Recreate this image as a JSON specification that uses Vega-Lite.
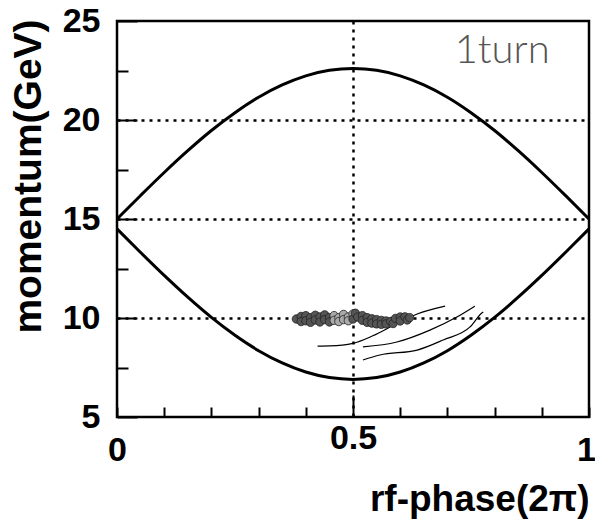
{
  "$schema": "https://vega.github.io/schema/vega-lite/v6.json",
  "width": 472,
  "height": 396,
  "autosize": "none",
  "padding": {"left": 117, "top": 21, "right": 6, "bottom": 110},
  "config": {
    "view": {"stroke": "black", "strokeWidth": 2.5},
    "font": "Liberation Sans"
  },
  "datasets": {
    "sep": [
      {"phase": 0, "p": 15.0, "branch": "upper"},
      {"phase": 0.05, "p": 16.19, "branch": "upper"},
      {"phase": 0.1, "p": 17.35, "branch": "upper"},
      {"phase": 0.15, "p": 18.45, "branch": "upper"},
      {"phase": 0.2, "p": 19.47, "branch": "upper"},
      {"phase": 0.25, "p": 20.37, "branch": "upper"},
      {"phase": 0.3, "p": 21.15, "branch": "upper"},
      {"phase": 0.35, "p": 21.77, "branch": "upper"},
      {"phase": 0.4, "p": 22.23, "branch": "upper"},
      {"phase": 0.45, "p": 22.51, "branch": "upper"},
      {"phase": 0.5, "p": 22.6, "branch": "upper"},
      {"phase": 0.55, "p": 22.51, "branch": "upper"},
      {"phase": 0.6, "p": 22.23, "branch": "upper"},
      {"phase": 0.65, "p": 21.77, "branch": "upper"},
      {"phase": 0.7, "p": 21.15, "branch": "upper"},
      {"phase": 0.75, "p": 20.37, "branch": "upper"},
      {"phase": 0.8, "p": 19.47, "branch": "upper"},
      {"phase": 0.85, "p": 18.45, "branch": "upper"},
      {"phase": 0.9, "p": 17.35, "branch": "upper"},
      {"phase": 0.95, "p": 16.19, "branch": "upper"},
      {"phase": 1, "p": 15.0, "branch": "upper"},
      {"phase": 0, "p": 14.5, "branch": "lower"},
      {"phase": 0.05, "p": 13.31, "branch": "lower"},
      {"phase": 0.1, "p": 12.15, "branch": "lower"},
      {"phase": 0.15, "p": 11.05, "branch": "lower"},
      {"phase": 0.2, "p": 10.03, "branch": "lower"},
      {"phase": 0.25, "p": 9.13, "branch": "lower"},
      {"phase": 0.3, "p": 8.35, "branch": "lower"},
      {"phase": 0.35, "p": 7.73, "branch": "lower"},
      {"phase": 0.4, "p": 7.27, "branch": "lower"},
      {"phase": 0.45, "p": 6.99, "branch": "lower"},
      {"phase": 0.5, "p": 6.9, "branch": "lower"},
      {"phase": 0.55, "p": 6.99, "branch": "lower"},
      {"phase": 0.6, "p": 7.27, "branch": "lower"},
      {"phase": 0.65, "p": 7.73, "branch": "lower"},
      {"phase": 0.7, "p": 8.35, "branch": "lower"},
      {"phase": 0.75, "p": 9.13, "branch": "lower"},
      {"phase": 0.8, "p": 10.03, "branch": "lower"},
      {"phase": 0.85, "p": 11.05, "branch": "lower"},
      {"phase": 0.9, "p": 12.15, "branch": "lower"},
      {"phase": 0.95, "p": 13.31, "branch": "lower"},
      {"phase": 1, "p": 14.5, "branch": "lower"}
    ],
    "tracks": [
      {"phase": 0.425, "p": 8.58, "track": "a"},
      {"phase": 0.451, "p": 8.59, "track": "a"},
      {"phase": 0.5, "p": 8.72, "track": "a"},
      {"phase": 0.542, "p": 9.1, "track": "a"},
      {"phase": 0.593, "p": 9.72, "track": "a"},
      {"phase": 0.636, "p": 10.2, "track": "a"},
      {"phase": 0.695, "p": 10.6, "track": "a"},
      {"phase": 0.521, "p": 8.54, "track": "b"},
      {"phase": 0.593, "p": 8.79, "track": "b"},
      {"phase": 0.663, "p": 9.39, "track": "b"},
      {"phase": 0.72, "p": 10.05, "track": "b"},
      {"phase": 0.758, "p": 10.6, "track": "b"},
      {"phase": 0.521, "p": 7.88, "track": "c"},
      {"phase": 0.557, "p": 8.13, "track": "c"},
      {"phase": 0.636, "p": 8.38, "track": "c"},
      {"phase": 0.691, "p": 8.89, "track": "c"},
      {"phase": 0.748, "p": 9.55, "track": "c"},
      {"phase": 0.773, "p": 10.25, "track": "c"},
      {"phase": 0.776, "p": 10.3, "track": "c"}
    ],
    "blob": [
      {"phase": 0.38, "p": 9.95, "shade": "dark"},
      {"phase": 0.39, "p": 10.08, "shade": "dark"},
      {"phase": 0.39, "p": 9.82, "shade": "dark"},
      {"phase": 0.4, "p": 10.12, "shade": "dark"},
      {"phase": 0.4, "p": 9.86, "shade": "dark"},
      {"phase": 0.41, "p": 10.02, "shade": "dark"},
      {"phase": 0.41, "p": 9.78, "shade": "dark"},
      {"phase": 0.42, "p": 10.14, "shade": "dark"},
      {"phase": 0.42, "p": 9.9, "shade": "dark"},
      {"phase": 0.43, "p": 10.05, "shade": "dark"},
      {"phase": 0.43, "p": 9.8, "shade": "dark"},
      {"phase": 0.44, "p": 10.16, "shade": "dark"},
      {"phase": 0.44, "p": 9.92, "shade": "dark"},
      {"phase": 0.45, "p": 10.02, "shade": "dark"},
      {"phase": 0.45, "p": 9.8, "shade": "dark"},
      {"phase": 0.46, "p": 10.12, "shade": "light"},
      {"phase": 0.46, "p": 9.88, "shade": "light"},
      {"phase": 0.47, "p": 10.02, "shade": "light"},
      {"phase": 0.47, "p": 9.82, "shade": "light"},
      {"phase": 0.48, "p": 10.18, "shade": "light"},
      {"phase": 0.48, "p": 9.92, "shade": "light"},
      {"phase": 0.49, "p": 10.05, "shade": "light"},
      {"phase": 0.49, "p": 9.86, "shade": "light"},
      {"phase": 0.5, "p": 10.2, "shade": "light"},
      {"phase": 0.5, "p": 9.95, "shade": "dark"},
      {"phase": 0.505, "p": 10.24, "shade": "dark"},
      {"phase": 0.51, "p": 10.05, "shade": "dark"},
      {"phase": 0.52, "p": 10.12, "shade": "dark"},
      {"phase": 0.52, "p": 9.88, "shade": "dark"},
      {"phase": 0.53, "p": 10.02, "shade": "dark"},
      {"phase": 0.53, "p": 9.78, "shade": "dark"},
      {"phase": 0.54, "p": 9.96, "shade": "dark"},
      {"phase": 0.54, "p": 9.74, "shade": "dark"},
      {"phase": 0.55, "p": 9.92, "shade": "dark"},
      {"phase": 0.55, "p": 9.7, "shade": "dark"},
      {"phase": 0.56, "p": 9.88, "shade": "dark"},
      {"phase": 0.56, "p": 9.68, "shade": "dark"},
      {"phase": 0.57, "p": 9.85, "shade": "dark"},
      {"phase": 0.57, "p": 9.7, "shade": "dark"},
      {"phase": 0.58, "p": 9.82, "shade": "dark"},
      {"phase": 0.585, "p": 9.72, "shade": "dark"},
      {"phase": 0.59, "p": 9.98, "shade": "dark"},
      {"phase": 0.6, "p": 10.05, "shade": "dark"},
      {"phase": 0.6, "p": 9.85, "shade": "dark"},
      {"phase": 0.61, "p": 10.06, "shade": "dark"},
      {"phase": 0.615, "p": 9.9, "shade": "dark"},
      {"phase": 0.62, "p": 10.02, "shade": "dark"}
    ],
    "note": [
      {"phase": 0.816, "p": 22.88, "text": "1turn"}
    ]
  },
  "layer": [
    {
      "data": {"name": "sep"},
      "mark": {"type": "line", "interpolate": "monotone", "color": "black", "strokeWidth": 3},
      "encoding": {
        "x": {
          "field": "phase", "type": "quantitative",
          "scale": {"domain": [0, 1], "nice": false, "zero": false},
          "axis": {
            "values": [0, 0.1, 0.2, 0.3, 0.4, 0.5, 0.6, 0.7, 0.8, 0.9, 1],
            "format": "~g",
            "labelExpr": "datum.value == 0 || datum.value == 0.5 || datum.value == 1 ? datum.label : ''",
            "domain": false,
            "tickColor": "black",
            "tickWidth": 2,
            "tickSize": {"condition": {"test": "datum.value == 0.5", "value": -22}, "value": -10},
            "grid": true,
            "gridColor": "black",
            "gridWidth": 2.5,
            "gridDash": [3, 5],
            "gridOpacity": {"condition": {"test": "datum.value == 0.5", "value": 1}, "value": 0},
            "labelFont": "Liberation Sans",
            "labelFontWeight": "bold",
            "labelFontSize": 34,
            "labelColor": "black",
            "labelPadding": 26,
            "labelBaseline": "top",
            "labelFlush": false,
            "labelOffset": {"condition": {"test": "datum.value == 1", "value": -3}, "value": 0},
            "title": "rf-phase(2π)",
            "titleFont": "Liberation Sans",
            "titleFontWeight": "bold",
            "titleFontSize": 37,
            "titleColor": "black",
            "titleAlign": "right",
            "titleAnchor": "end",
            "titleBaseline": "alphabetic",
            "titleX": 472,
            "titleY": 93
          }
        },
        "y": {
          "field": "p", "type": "quantitative",
          "scale": {"domain": [5, 25], "nice": false, "zero": false},
          "axis": {
            "values": [5, 7.5, 10, 12.5, 15, 17.5, 20, 22.5, 25],
            "labelExpr": "datum.value % 5 == 0 ? datum.label : ''",
            "domain": false,
            "tickColor": "black",
            "tickWidth": 2,
            "tickSize": {"condition": {"test": "datum.value % 5 == 0", "value": -20}, "value": -11},
            "grid": true,
            "gridColor": "black",
            "gridWidth": 2.5,
            "gridDash": [3, 5],
            "gridOpacity": {"condition": {"test": "datum.value == 10 || datum.value == 15 || datum.value == 20", "value": 1}, "value": 0},
            "labelFont": "Liberation Sans",
            "labelFontWeight": "bold",
            "labelFontSize": 34,
            "labelColor": "black",
            "labelPadding": 37,
            "labelBaseline": "middle",
            "labelFlush": false,
            "title": "momentum(GeV)",
            "titleFont": "Liberation Sans",
            "titleFontWeight": "bold",
            "titleFontSize": 39,
            "titleColor": "black",
            "titleAngle": -90,
            "titleAlign": "center",
            "titleAnchor": "middle",
            "titleBaseline": "middle",
            "titleX": -89,
            "titleY": 155
          }
        },
        "detail": {"field": "branch"}
      }
    },
    {
      "data": {"name": "tracks"},
      "mark": {"type": "line", "interpolate": "monotone", "color": "black", "strokeWidth": 1.2},
      "encoding": {
        "x": {"field": "phase", "type": "quantitative"},
        "y": {"field": "p", "type": "quantitative"},
        "detail": {"field": "track"}
      }
    },
    {
      "data": {"name": "blob"},
      "mark": {"type": "circle", "size": 70, "opacity": 1, "stroke": "#222222", "strokeWidth": 0.8},
      "encoding": {
        "x": {"field": "phase", "type": "quantitative"},
        "y": {"field": "p", "type": "quantitative"},
        "color": {
          "field": "shade", "type": "nominal",
          "scale": {"domain": ["dark", "light"], "range": ["#555555", "#aaaaaa"]},
          "legend": null
        }
      }
    },
    {
      "data": {"name": "note"},
      "mark": {"type": "text", "font": "Lato", "fontWeight": 300, "fontSize": 40, "color": "#555555", "align": "center", "baseline": "alphabetic"},
      "encoding": {
        "x": {"field": "phase", "type": "quantitative"},
        "y": {"field": "p", "type": "quantitative"},
        "text": {"field": "text"}
      }
    }
  ]
}
